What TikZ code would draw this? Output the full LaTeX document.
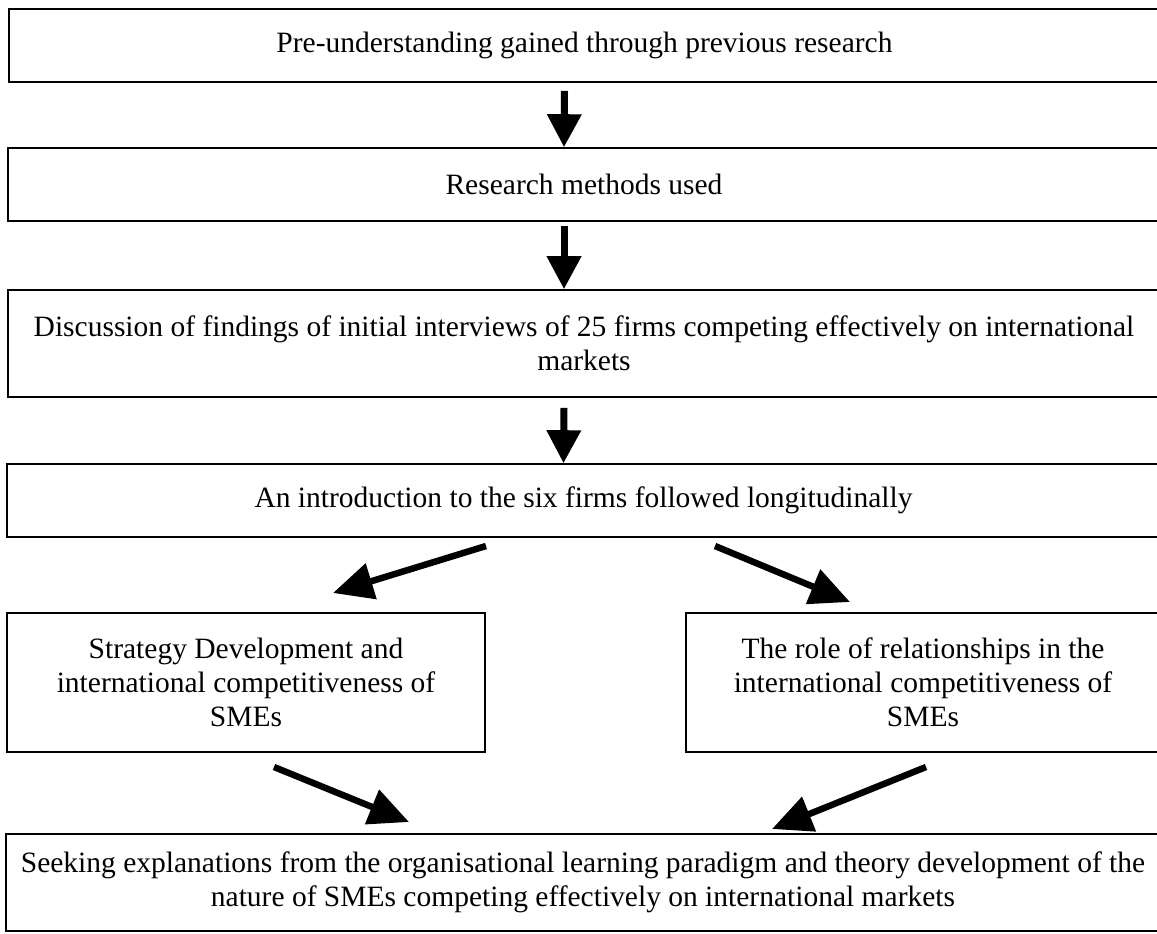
\documentclass[tikz,border=0pt]{standalone}
\usepackage{fontspec}
\setmainfont{Liberation Serif}
\usetikzlibrary{arrows.meta}
\begin{document}
\begin{tikzpicture}[x=1pt,y=-1pt,
  stage/.style={draw, line width=1.6pt, rectangle, inner sep=0pt, align=center,
    font=\fontsize{29.5}{34}\selectfont},
  flow/.style={line width=7pt, -{Triangle[length=33pt,width=33pt]}},
  branch/.style={line width=6.5pt, -{Triangle[length=40pt,width=36pt]}}]
\useasboundingbox (0,0) rectangle (1157,934);
\fill[white] (0,0) rectangle (1157,934);

% stages of the study (right edges run past the page edge)
\node[stage, minimum width=1151pt, minimum height=73pt] (b1) at (584.5,45.5)
  {Pre-understanding gained through previous research};
\node[stage, minimum width=1152pt, minimum height=73pt] (b2) at (584,184.5)
  {Research methods used};
\node[stage, minimum width=1152pt, minimum height=107pt] (b3) at (584,343.5)
  {Discussion of findings of initial interviews of 25 firms competing effectively on international\\markets};
\node[stage, minimum width=1153pt, minimum height=73pt] (b4) at (583.5,500.5)
  {An introduction to the six firms followed longitudinally};
\node[stage, minimum width=478pt, minimum height=139pt] (b5) at (246,682.5)
  {Strategy Development and\\international competitiveness of\\SMEs};
\node[stage, minimum width=474pt, minimum height=139pt] (b6) at (923,682.5)
  {The role of relationships in the\\international competitiveness of\\SMEs};
\node[stage, minimum width=1154pt, minimum height=97pt] (b7) at (583,882.5)
  {Seeking explanations from the organisational learning paradigm and theory development of the\\nature of SMEs competing effectively on international markets};

% vertical flow between the full-width stages
\draw[flow] ([xshift=-20pt,yshift=-8pt]b1.south) -- ([xshift=-20pt]b2.north);
\draw[flow] ([xshift=-20pt,yshift=-4pt]b2.south) -- ([xshift=-20pt]b3.north);
\draw[flow] ([xshift=-20pt,yshift=-10pt]b3.south) -- ([xshift=-20pt]b4.north);

% branching to the two themes and joining again
\coordinate (s4l) at (486,546);
\coordinate (t5)  at (333,593);
\coordinate (s4r) at (715,546);
\coordinate (t6)  at (850,602);
\coordinate (s5)  at (274,767);
\coordinate (t7l) at (409,822);
\coordinate (s6)  at (926,767);
\coordinate (t7r) at (772,829);
\draw[branch] (s4l) -- (t5);
\draw[branch] (s4r) -- (t6);
\draw[branch] (s5) -- (t7l);
\draw[branch] (s6) -- (t7r);
\end{tikzpicture}
\end{document}
